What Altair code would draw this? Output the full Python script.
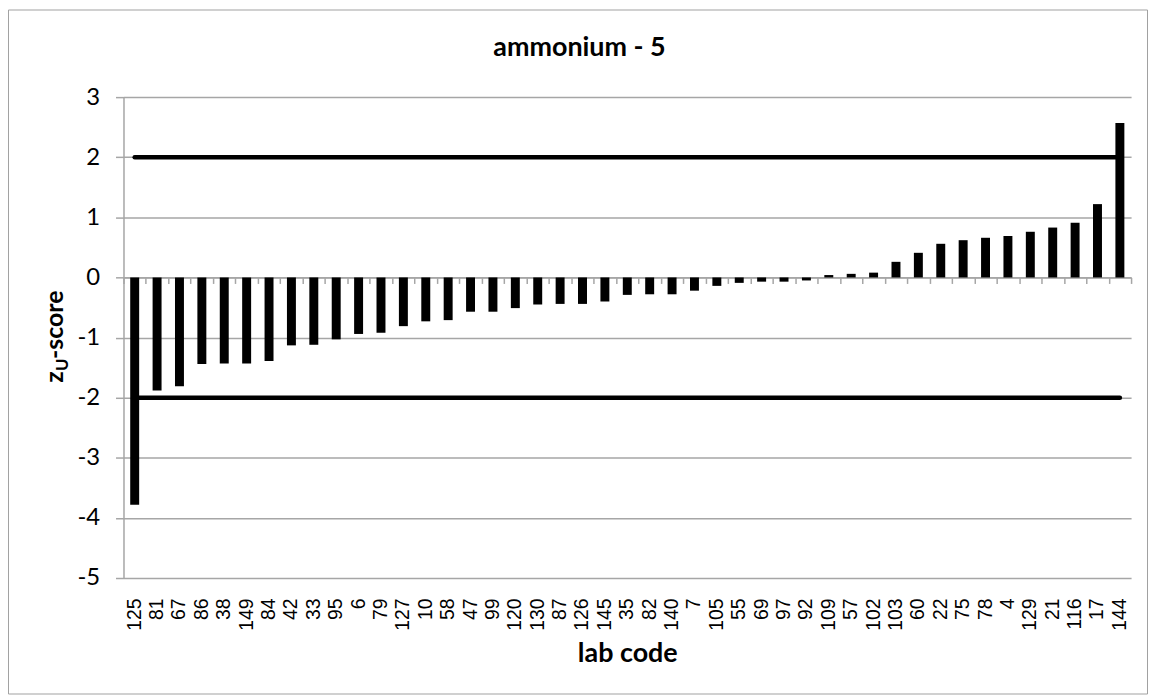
import altair as alt
import pandas as pd

labs = ["125", "81", "67", "86", "38", "149", "84", "42", "33", "95", "6", "79",
        "127", "10", "58", "47", "99", "120", "130", "87", "126", "145", "35",
        "82", "140", "7", "105", "55", "69", "97", "92", "109", "57", "102",
        "103", "60", "22", "75", "78", "4", "129", "21", "116", "17", "144"]
zscores = [-3.78, -1.88, -1.81, -1.44, -1.43, -1.43, -1.39, -1.13, -1.12, -1.03,
           -0.94, -0.92, -0.81, -0.73, -0.71, -0.57, -0.57, -0.51, -0.45, -0.44,
           -0.44, -0.40, -0.29, -0.28, -0.28, -0.22, -0.14, -0.09, -0.07, -0.07,
           -0.05, 0.04, 0.06, 0.08, 0.26, 0.41, 0.56, 0.62, 0.66, 0.69, 0.76,
           0.83, 0.91, 1.22, 2.57]
limits = [2, -2]
y_ticks = [-5, -4, -3, -2, -1, 0, 1, 2, 3]
title_text = "ammonium - 5"
x_title = "lab code"

W, H = 1012, 483
GRID = "#a6a6a6"
df = pd.DataFrame({"lab": labs, "z": zscores})

xscale = alt.Scale(domain=labs, paddingInner=0, paddingOuter=0)
yscale = alt.Scale(domain=[-5, 3], nice=False, zero=False)

yaxis = alt.Axis(values=y_ticks, title=None, grid=True, gridColor=GRID, gridWidth=1.5,
                 domainColor=GRID, domainWidth=1.5, tickColor=GRID, tickWidth=1.5,
                 tickSize=8, labelFont="Lato", labelFontSize=24, labelColor="black",
                 labelPadding=16, labelExpr="'' + datum.value")

xaxis = alt.Axis(title=x_title, labelAngle=270, labelFont="Liberation Sans",
                 labelFontSize=19.5, labelColor="black", labelOverlap=False, labelPadding=20,
                 ticks=False, tickSize=0, domain=False, grid=False,
                 titleFont="Lato", titleFontSize=27, titleFontWeight="bold", titleColor="black",
                 titleBaseline="alphabetic", titleY=84, titleX=W / 2, titleAlign="center")

bars = alt.Chart(df).mark_bar(color="black", width=alt.RelativeBandSize(0.4)).encode(
    x=alt.X("lab:N", sort=labs, scale=xscale, axis=xaxis),
    y=alt.Y("z:Q", scale=yscale, axis=yaxis),
)

zero_axis = alt.Chart(df).mark_point(opacity=0).encode(
    x=alt.X("lab:N", sort=labs, scale=xscale,
            axis=alt.Axis(orient="bottom", offset=-H * 5 / 8, labels=False, title=None,
                          tickBand="extent", tickSize=6, tickColor=GRID, tickWidth=1.5,
                          domainColor=GRID, domainWidth=1.5, grid=False)),
    y=alt.datum(0),
)

upper = alt.Chart(df).mark_line(color="black", strokeWidth=4.5, strokeCap="round").encode(
    x=alt.X("lab:N", sort=labs, scale=xscale, axis=None), y=alt.datum(limits[0]))
lower = alt.Chart(df).mark_line(color="black", strokeWidth=4.5, strokeCap="round").encode(
    x=alt.X("lab:N", sort=labs, scale=xscale, axis=None), y=alt.datum(limits[1]))

one = pd.DataFrame({"k": [0]})
tfont = dict(font="Lato", fontWeight="bold", color="black", angle=270,
             align="left", baseline="alphabetic")
yt_z = alt.Chart(one).mark_text(text="z", fontSize=25, **tfont).encode(
    x=alt.value(-61), y=alt.value(287))
yt_u = alt.Chart(one).mark_text(text="U", fontSize=17, **tfont).encode(
    x=alt.value(-56), y=alt.value(275))
yt_s = alt.Chart(one).mark_text(text="-score", fontSize=25, **tfont).encode(
    x=alt.value(-61), y=alt.value(263))

title = alt.Chart(one).mark_text(text=title_text, font="Lato", fontWeight="bold", fontSize=27,
                                 color="black", align="center", baseline="alphabetic").encode(
    x=alt.value(458), y=alt.value(-41))

border = alt.Chart(one).mark_rect(fillOpacity=0, stroke="#a0a0a0", strokeWidth=1).encode(
    x=alt.value(-115.5), x2=alt.value(1028.5), y=alt.value(-87.5), y2=alt.value(599.5))

chart = alt.layer(bars, zero_axis, upper, lower, yt_z, yt_u, yt_s, title, border).resolve_axis(
    x="independent"
).properties(
    width=W, height=H,
    autosize=alt.AutoSizeParams(type="none"),
    padding={"left": 116, "top": 88, "right": 18, "bottom": 118},
    background="white",
).configure_view(stroke=None)

chart.save("out.html", embed_options={"renderer": "svg", "actions": False})
